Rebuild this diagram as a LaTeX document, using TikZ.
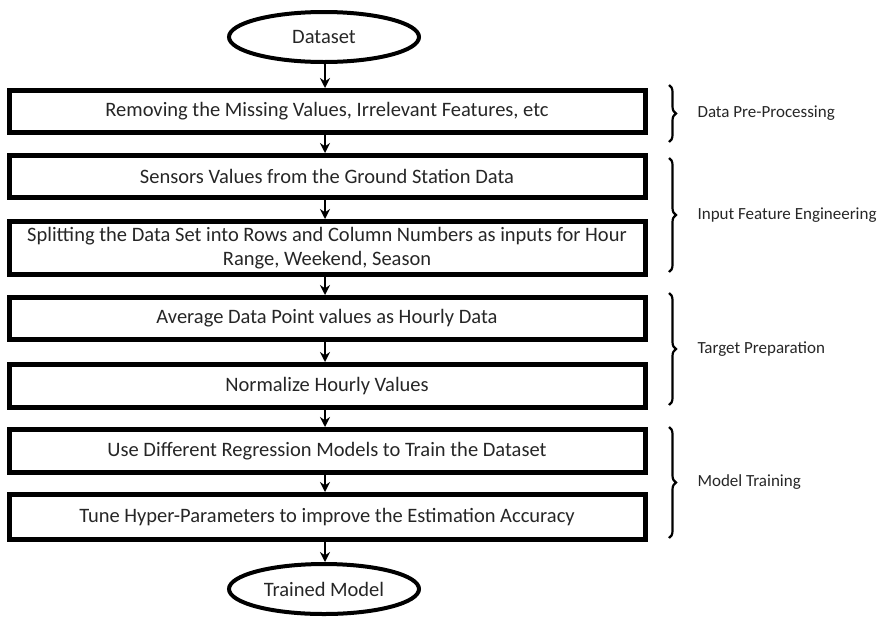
\documentclass[tikz,border=0pt]{standalone}
\usepackage{fontspec}
\setmainfont{Carlito}
\usetikzlibrary{shapes.geometric, decorations.pathreplacing, arrows.meta}

\tikzset{
  stepbox/.style={draw, line width=5pt, minimum width=636pt, inner sep=2pt, align=center,
    text=black!85, font=\fontsize{20.5}{24}\selectfont},
  terminal/.style={draw, ellipse, line width=4pt, minimum width=190pt, minimum height=50pt,
    text=black!85, font=\fontsize{20.5}{24}\selectfont},
  flow/.style={-{Stealth[length=10pt,width=10pt]}, line width=2pt},
  grp/.style={decorate, decoration={brace, amplitude=7pt}, line width=2.2pt},
  grplabel/.style={anchor=west, text=black!85, font=\fontsize{17}{20}\selectfont}
}

\begin{document}
\begin{tikzpicture}[x=1pt, y=-1pt]
\useasboundingbox (0,0) rectangle (882,619);

% flow chart
\node[terminal] (data) at (324,37) {Dataset};
\node[stepbox, minimum height=42pt] (clean) at (327,111.5) {Removing the Missing Values, Irrelevant Features, etc};
\node[stepbox, minimum height=42pt] (sensor) at (327,176.5) {Sensors Values from the Ground Station Data};
\node[stepbox, minimum height=53pt] (split) at (327,248) {Splitting the Data Set into Rows and Column Numbers as inputs for Hour\\Range, Weekend, Season};
\node[stepbox, minimum height=42pt] (avg) at (327,318.5) {Average Data Point values as Hourly Data};
\node[stepbox, minimum height=43pt] (norm) at (327,386) {Normalize Hourly Values};
\node[stepbox, minimum height=43pt] (train) at (327,451) {Use Different Regression Models to Train the Dataset};
\node[stepbox, minimum height=45pt] (tune) at (327,517) {Tune Hyper-Parameters to improve the Estimation Accuracy};
\node[terminal] (model) at (324,589) {Trained Model};

\draw[flow] (data.south -| 325,0) -- (clean.north -| 325,0);
\draw[flow] (clean.south -| 325,0) -- (sensor.north -| 325,0);
\draw[flow] (sensor.south -| 325,0) -- (split.north -| 325,0);
\draw[flow] (split.south -| 325,0) -- (avg.north -| 325,0);
\draw[flow] (avg.south -| 325,0) -- (norm.north -| 325,0);
\draw[flow] (norm.south -| 325,0) -- (train.north -| 325,0);
\draw[flow] (train.south -| 325,0) -- (tune.north -| 325,0);
\draw[flow] (tune.south -| 325,0) -- (model.north -| 325,0);

% stages
\coordinate (pre1) at (669,85);   \coordinate (pre2) at (669,142);
\coordinate (feat1) at (669,158); \coordinate (feat2) at (669,272);
\coordinate (targ1) at (669,293); \coordinate (targ2) at (669,405);
\coordinate (mod1) at (669,427);  \coordinate (mod2) at (669,538);

\draw[grp] (pre1) -- (pre2);
\draw[grp] (feat1) -- (feat2);
\draw[grp] (targ1) -- (targ2);
\draw[grp] (mod1) -- (mod2);

\node[grplabel] (prelab) at (694,113.5) {Data Pre-Processing};
\node[grplabel] (featlab) at (694,215) {Input Feature Engineering};
\node[grplabel] (targlab) at (694,349) {Target Preparation};
\node[grplabel] (modlab) at (694,482.5) {Model Training};
\end{tikzpicture}
\end{document}
